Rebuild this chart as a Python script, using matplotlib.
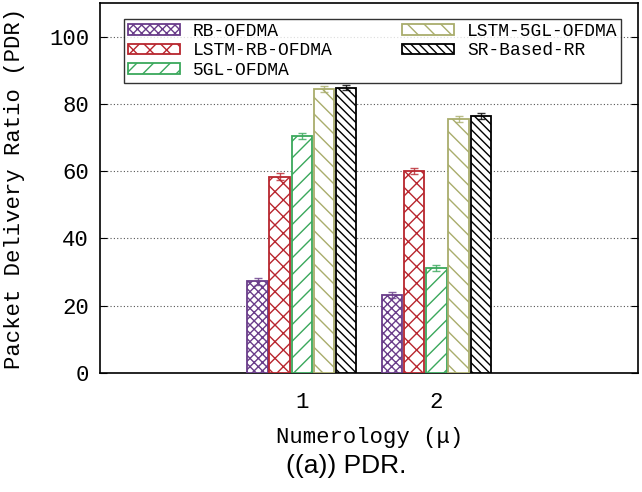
import numpy as np
import matplotlib.pyplot as plt

numerology = ['1', '2']
series = ['RB-OFDMA', 'LSTM-RB-OFDMA', '5GL-OFDMA', 'LSTM-5GL-OFDMA', 'SR-Based-RR']
rb_ofdma = [27.2, 23.2]
lstm_rb_ofdma = [58.3, 60.0]
gl5_ofdma = [70.4, 31.2]
lstm_5gl_ofdma = [84.4, 75.5]
sr_based_rr = [84.8, 76.4]
err = [[1.0, 1.0], [1.0, 1.0], [0.8, 1.0], [0.8, 1.0], [0.7, 1.0]]

colors = ['#6a3d8a', '#b8262e', '#3aa85c', '#a9ad6c', '#000000']
hatches = ['xxxx', 'xx', '//', '\\\\', '\\\\\\\\']

plt.rcParams['font.family'] = ['Liberation Mono', 'DejaVu Sans']
plt.rcParams['hatch.linewidth'] = 1.0

fig = plt.figure(figsize=(6.42, 4.92), dpi=100)
ax = fig.add_axes([0.156, 0.242, 0.838, 0.752])

x = np.arange(1, len(numerology) + 1)
w = 0.165
data = [rb_ofdma, lstm_rb_ofdma, gl5_ofdma, lstm_5gl_ofdma, sr_based_rr]
for i, (name, vals) in enumerate(zip(series, data)):
    pos = x + (i - 2) * w
    ax.bar(pos, vals, w * 0.92, color='white', edgecolor=colors[i], hatch=hatches[i],
           linewidth=1.3, label=name, zorder=3)
    ax.errorbar(pos, vals, yerr=err[i], fmt='none', ecolor=colors[i], elinewidth=1,
                capsize=3, alpha=0.8, zorder=4)

ax.set_xlim(-0.5, 3.5)
ax.set_ylim(0, 110)
ax.set_xticks(x)
ax.set_xticklabels(numerology)
ax.set_yticks([0, 20, 40, 60, 80, 100])
ax.tick_params(axis='x', length=0, pad=14, labelsize=16)
ax.tick_params(axis='y', direction='in', right=True, length=5, pad=8, labelsize=16)
ax.grid(axis='y', linestyle=(0, (1, 2)), color='#555555', linewidth=0.8, zorder=0)
for s in ax.spines.values():
    s.set_linewidth(1.2)

ax.set_xlabel('Numerology (μ)', fontsize=16, labelpad=10)
fig.text(15 / 642, 0.618, 'Packet Delivery Ratio (PDR)', rotation=90, ha='center',
         va='center', fontsize=16)

leg = ax.legend(ncol=2, loc='upper left', fontsize=13, frameon=True, fancybox=False,
                edgecolor='black', handlelength=2.9, handleheight=0.55, handletextpad=0.7,
                borderpad=0.2, labelspacing=0.15, mode='expand',
                bbox_to_anchor=(0.028, 0.805, 0.957, 0.176), bbox_transform=ax.transAxes)
leg.get_frame().set_linewidth(1.0)
leg.set_zorder(5)

fig.text(346 / 642, 0.053, '((a)) PDR.', ha='center', va='center', fontsize=19,
         family='Liberation Sans')

fig.savefig('out.png', dpi=100)
